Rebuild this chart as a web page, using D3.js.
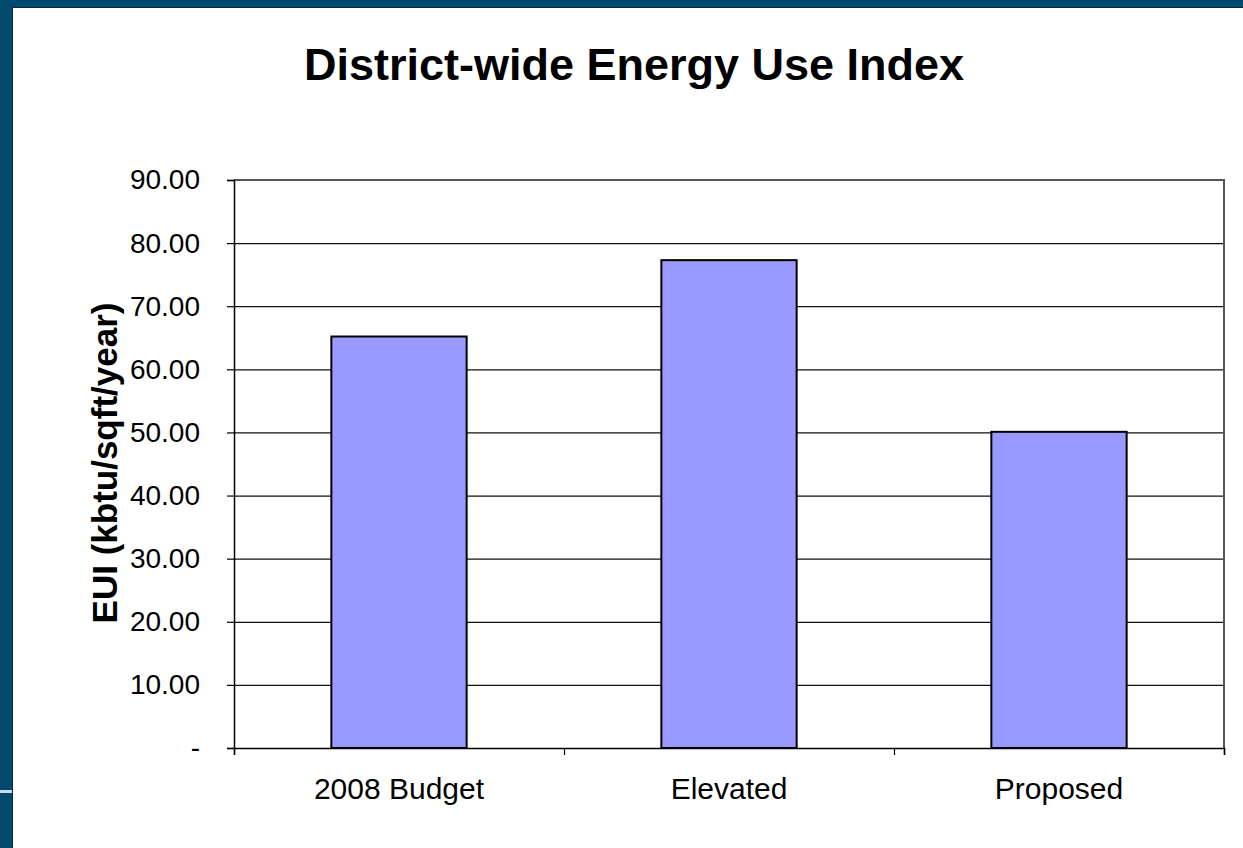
<!DOCTYPE html>
<html>
<head>
<meta charset="utf-8">
<script src="https://cdn.jsdelivr.net/npm/d3@7/dist/d3.min.js"></script>
<style>
  html, body { margin: 0; padding: 0; background: #014a6e; }
  svg { display: block; }
  text { font-family: "Liberation Sans", Arial, sans-serif; fill: #000; }
</style>
</head>
<body>
<div id="chart"></div>
<script>
// data
const categories = ["2008 Budget", "Elevated", "Proposed"];
const euiValues = [65.2, 77.3, 50.1];
const yTicks = [0, 10, 20, 30, 40, 50, 60, 70, 80, 90];
const chartTitle = "District-wide Energy Use Index";
const yTitle = "EUI (kbtu/sqft/year)";

const W = 1243, H = 848;
const plot = { left: 234, right: 1224, top: 180, bottom: 748 };

const svg = d3.select("#chart").append("svg")
  .attr("width", W)
  .attr("height", H);

// slide frame
svg.append("rect").attr("x", 0).attr("y", 0).attr("width", W).attr("height", H).attr("fill", "#014a6e");
svg.append("rect").attr("x", 12).attr("y", 7).attr("width", W - 12).attr("height", H - 7).attr("fill", "#0b2736");
svg.append("rect").attr("x", 13).attr("y", 8).attr("width", W - 13).attr("height", H - 8).attr("fill", "#fff");
svg.append("rect").attr("x", 0).attr("y", 790).attr("width", 12).attr("height", 3).attr("fill", "#c9dde8");

const x = d3.scaleBand()
  .domain(categories)
  .range([plot.left, plot.right])
  .paddingInner(0.59)
  .paddingOuter(0.295);

const y = d3.scaleLinear()
  .domain([0, 90])
  .range([plot.bottom, plot.top]);

// gridlines
svg.append("g")
  .attr("transform", "translate(" + plot.left + ",0)")
  .call(d3.axisLeft(y).tickValues(yTicks.slice(1, -1)).tickSize(-(plot.right - plot.left)).tickFormat(""))
  .call(g => g.select(".domain").remove())
  .call(g => g.selectAll("line").attr("stroke", "#111").attr("stroke-width", 1.2));

// plot frame top/right (gray)
svg.append("path")
  .attr("d", d3.line()([[plot.left, plot.top], [plot.right, plot.top], [plot.right, plot.bottom]]))
  .attr("fill", "none")
  .attr("stroke", "#555")
  .attr("stroke-width", 2);

// bars
svg.append("g").selectAll("rect")
  .data(categories)
  .join("rect")
  .attr("x", d => x(d))
  .attr("width", x.bandwidth())
  .attr("y", (d, i) => y(euiValues[i]))
  .attr("height", (d, i) => y(0) - y(euiValues[i]))
  .attr("fill", "#9999ff")
  .attr("stroke", "#000")
  .attr("stroke-width", 2);

// y axis
const yAxis = svg.append("g")
  .attr("transform", "translate(" + plot.left + ",0)")
  .call(d3.axisLeft(y).tickValues(yTicks).tickSize(7).tickPadding(27)
    .tickFormat(d => d === 0 ? "-" : d.toFixed(2)));
yAxis.select(".domain").attr("stroke", "#000").attr("stroke-width", 1.5);
yAxis.selectAll("line").attr("stroke", "#000").attr("stroke-width", 1.2);
yAxis.selectAll("text").style("font-size", "28px").attr("fill", "#000");

// x axis: tick marks on category boundaries
const xb = d3.scaleLinear().domain([0, categories.length]).range([plot.left, plot.right]);
const xAxis = svg.append("g")
  .attr("transform", "translate(0," + plot.bottom + ")")
  .call(d3.axisBottom(xb).tickValues(d3.range(categories.length + 1)).tickSize(7).tickFormat(""));
xAxis.select(".domain").attr("stroke", "#000").attr("stroke-width", 1.5);
xAxis.selectAll("line").attr("stroke", "#000").attr("stroke-width", 1.2);

// category labels
const xLab = svg.append("g")
  .attr("transform", "translate(0," + plot.bottom + ")")
  .call(d3.axisBottom(x).tickSize(0).tickPadding(30));
xLab.select(".domain").remove();
xLab.selectAll("text").style("font-size", "30px").attr("fill", "#000");

// titles
svg.append("text")
  .attr("x", 634)
  .attr("y", 80)
  .attr("text-anchor", "middle")
  .style("font-size", "45px")
  .style("font-weight", "bold")
  .text(chartTitle);

svg.append("text")
  .attr("transform", "translate(117,463) rotate(-90)")
  .attr("text-anchor", "middle")
  .style("font-size", "35px")
  .style("font-weight", "bold")
  .text(yTitle);
</script>
</body>
</html>
